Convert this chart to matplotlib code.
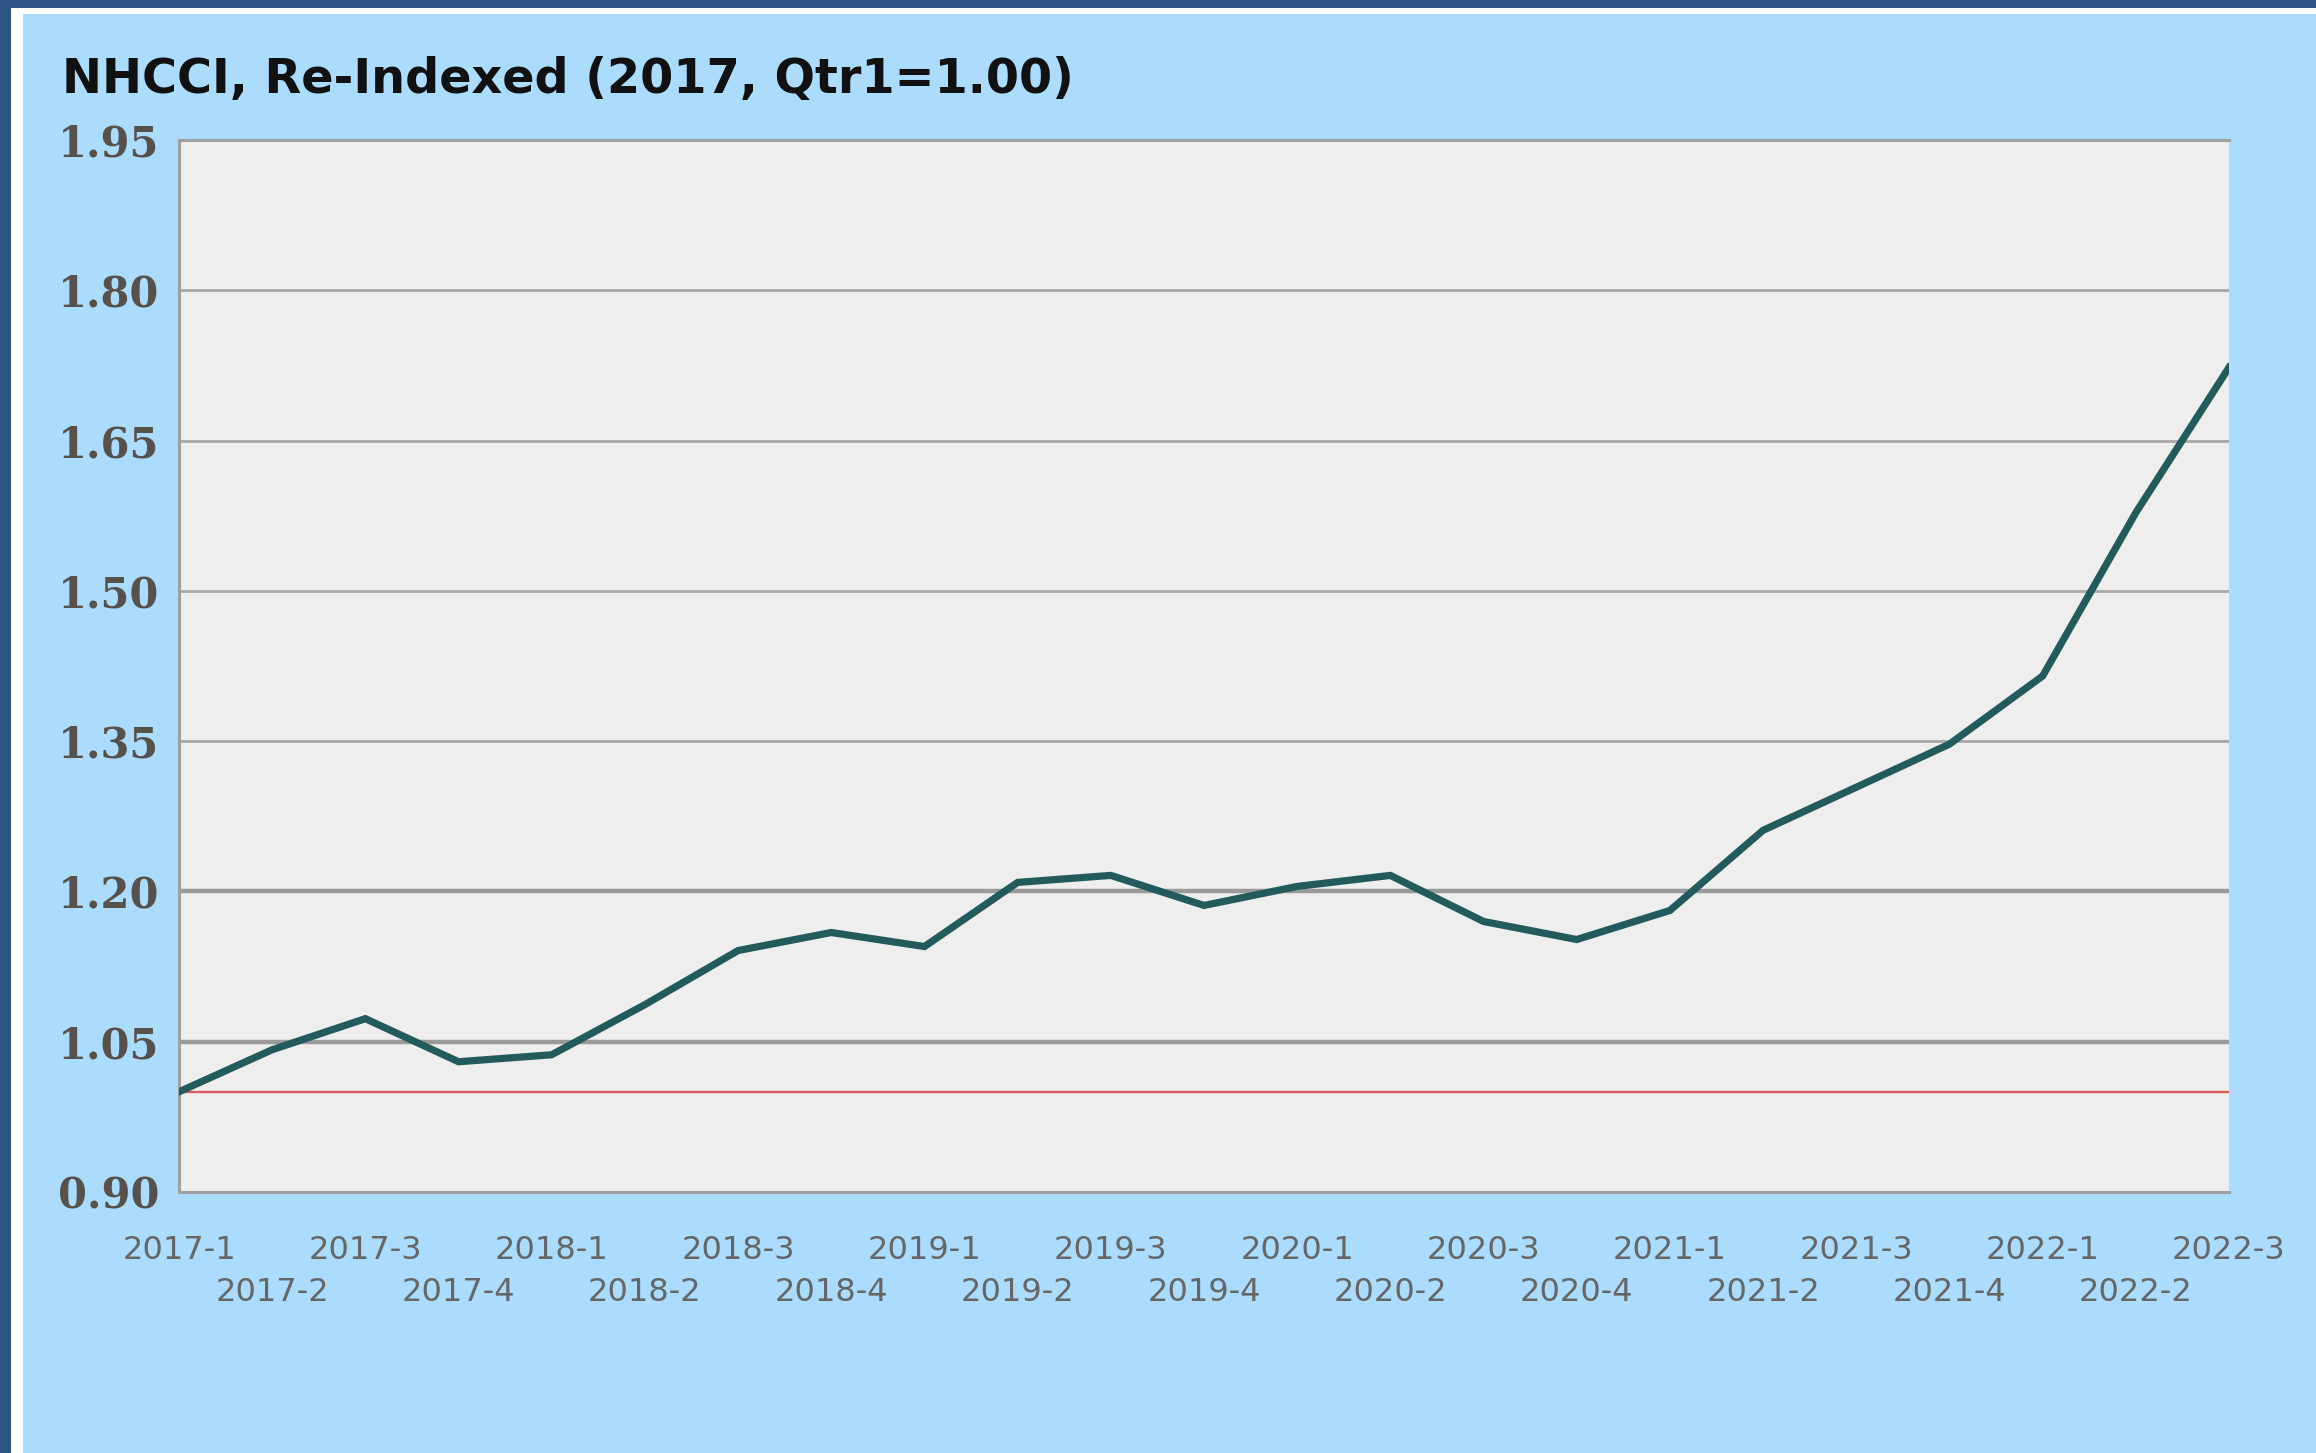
import matplotlib
matplotlib.use("Agg")
import matplotlib.pyplot as plt
from matplotlib.patches import Rectangle

quarters = ["2017-1", "2017-2", "2017-3", "2017-4",
            "2018-1", "2018-2", "2018-3", "2018-4",
            "2019-1", "2019-2", "2019-3", "2019-4",
            "2020-1", "2020-2", "2020-3", "2020-4",
            "2021-1", "2021-2", "2021-3", "2021-4",
            "2022-1", "2022-2", "2022-3"]
nhcci = [1.000, 1.042, 1.073, 1.030, 1.037, 1.087, 1.141, 1.159,
         1.145, 1.209, 1.216, 1.186, 1.205, 1.216, 1.170, 1.152,
         1.181, 1.261, 1.304, 1.347, 1.415, 1.578, 1.723]
y_ticks = [0.90, 1.05, 1.20, 1.35, 1.50, 1.65, 1.80, 1.95]
y_tick_labels = ["0.90", "1.05", "1.20", "1.35", "1.50", "1.65", "1.80", "1.95"]
baseline = 1.00
title = "NHCCI, Re-Indexed (2017, Qtr1=1.00)"

W, H = 2316, 1453
fig = plt.figure(figsize=(W / 100, H / 100), dpi=100)
fig.patch.set_facecolor("#2f5586")
# white frame and light-blue panel
fig.patches.append(Rectangle((11 / W, 0), 1, (H - 8) / H, transform=fig.transFigure,
                             facecolor="white", edgecolor="none", zorder=-3))
fig.patches.append(Rectangle((23 / W, 0), 1, (H - 14) / H, transform=fig.transFigure,
                             facecolor="#abdcfe", edgecolor="none", zorder=-2))

ax = fig.add_axes([179 / W, 261 / H, 2050 / W, 1052 / H])
ax.set_facecolor("#eeeeee")

x = list(range(len(quarters)))
ax.set_xlim(0, len(quarters) - 1)
ax.set_ylim(y_ticks[0], y_ticks[-1])

for v in y_ticks[1:]:
    thick = v in (1.05, 1.20)
    ax.axhline(v, color="#9a9a9a" if thick else "#a8a8a8",
               lw=3.2 if thick else 2.0, zorder=1)
ax.axhline(baseline, color="#d85a5a", lw=1.7, zorder=2)
ax.plot(x, nhcci, color="#235b5d", lw=5.2, zorder=3, solid_joinstyle="miter")

for side in ("left", "bottom", "top"):
    ax.spines[side].set_color("#a0a0a0")
    ax.spines[side].set_linewidth(2.2)
ax.spines["right"].set_visible(False)

ax.set_yticks(y_ticks)
ax.set_yticklabels(y_tick_labels, fontfamily="DejaVu Serif", fontweight="bold",
                   fontsize=30, color="#57514b")

even = x[0::2]
odd = x[1::2]
ax.set_xticks(even)
ax.set_xticklabels(quarters[0::2], fontfamily="DejaVu Sans", fontsize=23, color="#666666")
ax.set_xticks(odd, minor=True)
ax.set_xticklabels(quarters[1::2], minor=True, fontfamily="DejaVu Sans", fontsize=23,
                   color="#666666")
ax.tick_params(axis="both", which="both", length=0)
ax.tick_params(axis="y", pad=14)
ax.tick_params(axis="x", which="major", pad=31)
ax.tick_params(axis="x", which="minor", pad=61)

fig.text(62 / W, (H - 80) / H, title, fontfamily="DejaVu Sans", fontweight="bold",
         fontsize=34.4, color="#111111", va="center", ha="left")

fig.savefig("out.png", dpi=100, facecolor=fig.get_facecolor())
